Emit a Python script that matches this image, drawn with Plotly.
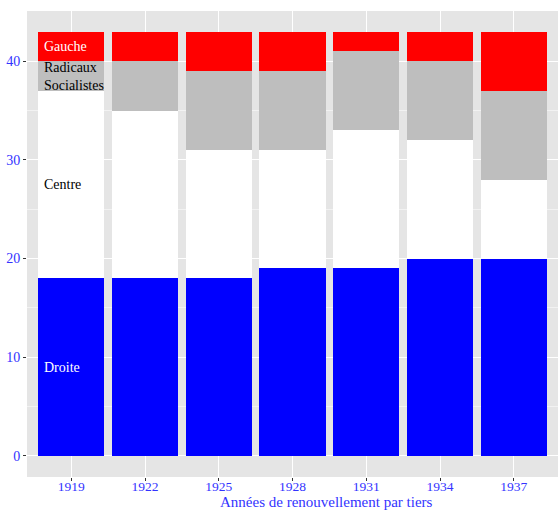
import plotly.graph_objects as go

years = ["1919", "1922", "1925", "1928", "1931", "1934", "1937"]
droite = [18, 18, 18, 19, 19, 20, 20]
centre = [19, 17, 13, 12, 14, 12, 8]
radicaux = [3, 5, 8, 8, 8, 8, 9]
gauche = [3, 3, 4, 4, 2, 3, 6]

series = [
    ("Droite", droite, "#0000FF"),
    ("Centre", centre, "#FFFFFF"),
    ("Radicaux Socialistes", radicaux, "#BEBEBE"),
    ("Gauche", gauche, "#FF0000"),
]

xpos = list(range(len(years)))
fig = go.Figure()
for name, vals, col in series:
    fig.add_trace(go.Bar(x=xpos, y=vals, name=name, marker=dict(color=col, line=dict(width=0)),
                         width=0.9, showlegend=False, hoverinfo="skip"))

labels = [
    ("Droite", droite[0] / 2, "white"),
    ("Centre", droite[0] + centre[0] / 2, "black"),
    ("Radicaux<br>Socialistes", droite[0] + centre[0] + radicaux[0] / 2, "black"),
    ("Gauche", droite[0] + centre[0] + radicaux[0] + gauche[0] / 2, "white"),
]
for txt, yv, col in labels:
    fig.add_annotation(x=-0.39, y=yv, xref="x", yref="y", text=txt, showarrow=False,
                       xanchor="left", yanchor="middle", align="left",
                       font=dict(family="Liberation Serif", size=14, color=col))

fig.add_annotation(x=315 / 558, y=0, xref="paper", yref="paper",
                   text="Années de renouvellement par tiers", showarrow=False,
                   xanchor="center", yanchor="bottom", yshift=-34, borderpad=0,
                   font=dict(family="Liberation Serif", size=15, color="#3333FF"))

fig.update_layout(
    width=558, height=510,
    margin=dict(l=27, r=0, t=11, b=33, autoexpand=False),
    barmode="stack",
    bargap=0.1,
    plot_bgcolor="#E5E5E5",
    paper_bgcolor="white",
    font=dict(family="Liberation Serif", size=14, color="#3333FF"),
    xaxis=dict(range=[-0.6, 6.6], tickvals=xpos, ticktext=years, showgrid=True,
               gridcolor="white", gridwidth=1.1, zeroline=False, ticks="outside",
               ticklen=3, tickcolor="#333333", automargin=False, ticklabelstandoff=-6,
               tickfont=dict(size=13.5, color="#3333FF")),
    yaxis=dict(range=[-2.15, 45.1], tickvals=[0, 10, 20, 30, 40], showgrid=True,
               gridcolor="white", gridwidth=1.1, zeroline=False, ticks="outside",
               ticklen=3, tickcolor="#333333", automargin=False,
               tickfont=dict(size=14, color="#3333FF"),
               minor=dict(tickvals=[5, 15, 25, 35, 45], showgrid=True, gridcolor="#F2F2F2",
                          gridwidth=0.6, ticks="")),
)

fig.write_html("out.html", config={"displayModeBar": False},
               post_script="document.body.style.margin='0px';")
